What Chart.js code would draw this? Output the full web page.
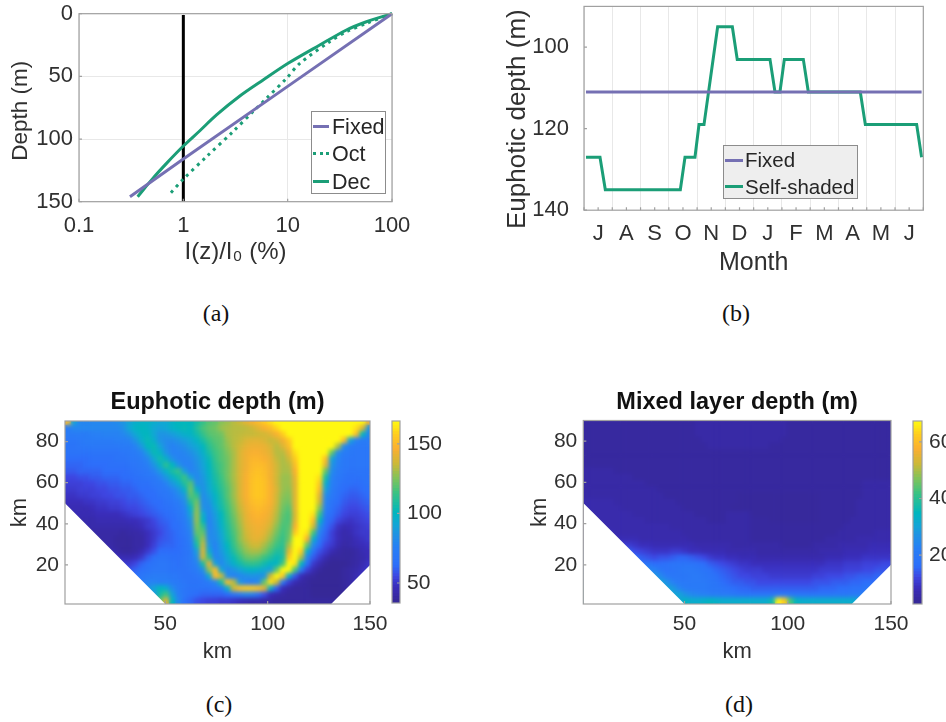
<!DOCTYPE html>
<html>
<head>
<meta charset="utf-8">
<title>Euphotic depth</title>
<script src="https://cdn.jsdelivr.net/npm/chart.js@4"></script>
<style>
html,body{margin:0;padding:0;background:#fff;overflow:hidden}
#page{position:relative;width:946px;height:722px;overflow:hidden}
canvas{position:absolute;filter:blur(.4px)}
.cap{position:absolute;font:24px "Liberation Serif",serif;color:#111;transform:translateX(-50%);line-height:28px}
.lg{position:absolute;box-sizing:border-box;border:1px solid #8c8c8c;font-family:"Liberation Sans",Arial,sans-serif;color:#262626;filter:blur(.3px)}
.lg div{position:absolute;white-space:nowrap;line-height:24px}
.lg i{position:absolute;height:0;border-top:3px solid}
</style>
</head>
<body>
<div id="page">
  <canvas id="a" width="430" height="290" style="left:0;top:0"></canvas>
  <canvas id="b" width="446" height="290" style="left:500px;top:0"></canvas>
  <canvas id="c" width="410" height="290" style="left:0;top:385px"></canvas>
  <canvas id="cb" width="60" height="290" style="left:385px;top:385px"></canvas>
  <canvas id="d" width="410" height="290" style="left:520px;top:385px"></canvas>
  <canvas id="db" width="41" height="290" style="left:905px;top:385px"></canvas>
  <div class="cap" style="left:216px;top:299px">(a)</div>
  <div class="cap" style="left:736px;top:299px">(b)</div>
  <div class="cap" style="left:219px;top:690px">(c)</div>
  <div class="cap" style="left:739px;top:690px">(d)</div>
</div>
<script>
// panel a
const fixedLight = [100, 10, 1, 0.308];
const fixedDepth = [0, 58, 116, 146];
const octLight = [100, 56.9, 36.6, 25.3, 13.1, 9.74, 6.27, 4.67, 3.0, 1.67, 1.0, 0.74];
const octDepth = [0, 7.7, 14.4, 22.3, 39.6, 51.6, 67.5, 78, 94, 114, 132, 144];
const decLight = [100, 56.9, 36.6, 20.3, 10.1, 5.82, 3.48, 2.08, 1.44, 1.0, 0.69, 0.515, 0.365];
const decDepth = [0, 6.4, 13, 25, 39.6, 52.9, 65.7, 80.8, 93.4, 105.6, 119.4, 131, 146];
const oneLight = [1, 1];
const oneDepth = [1, 150];
const lightTicks = [0.1, 1, 10, 100];
const depthTicks = [0, 50, 100, 150];

// panel b
const months = ['J','A','S','O','N','D','J','F','M','A','M','J'];
const fixedMonth = [0.07, 11.94];
const fixedEuphotic = [111, 111];
const shadedMonth = [0.07,0.566,0.754,3.407,3.572,3.925,4.067,4.244,4.727,5.246,5.42,6.578,6.755,6.93,7.085,7.757,7.934,9.772,9.95,11.765,11.94];
const shadedEuphotic = [127,127,135,135,127,127,119,119,95,95,103,103,111,111,103,103,111,111,119,119,127];
const euphoticTicks = [100, 120, 140];

// panels c and d: rows run from the top (y=89.5) down, 3 km cells
const kmXTicks = [50, 100, 150];
const kmYTicks = [20, 40, 60, 80];
const domainX = [1, 50, 131, 150, 150, 1];
const domainY = [50, 1, 1, 20, 90, 90];
const euphoticTicksBar = [50, 100, 150];
const mixedTicksBar = [20, 40, 60];
const euphoticRows = [
[150,90,78,78,78,78,78,78,80,85,90,95,97,97,95,92,92,97,100,100,100,105,112,118,120,125,128,132,135,140,145,150,155,160,165,165,165,165,165,165,165,165,165,165,165,165,165,165,165,145],
[72,78,78,78,78,78,78,78,78,82,92,98,100,98,92,90,92,97,100,102,100,108,116,120,122,128,130,132,132,133,135,140,146,150,158,165,165,165,165,165,165,165,165,165,165,165,165,160,140,85],
[72,72,72,72,74,75,76,76,76,78,84,92,98,100,92,84,85,88,92,96,98,104,112,118,120,122,130,132,133,134,134,135,136,140,146,156,165,165,165,165,165,165,165,165,165,165,165,150,100,78],
[68,68,70,72,72,72,72,72,74,74,76,84,95,102,96,84,80,80,84,88,92,98,106,114,118,120,128,132,134,138,140,140,138,134,136,144,155,165,165,165,165,165,165,165,165,150,90,76,72,72],
[66,66,68,70,70,70,70,70,70,72,72,76,86,100,102,90,80,76,78,82,88,92,100,110,116,120,126,132,136,141,143,143,142,138,132,138,150,165,165,165,165,165,165,165,130,80,72,70,70,70],
[66,66,66,66,66,66,66,66,66,68,70,72,76,88,102,98,84,76,76,78,82,88,96,106,114,118,124,130,138,143,145,145,143,140,132,132,142,160,165,165,165,165,165,120,80,72,70,68,68,68],
[62,62,62,62,64,64,64,64,66,66,68,70,72,78,92,104,96,82,76,76,78,84,92,102,112,118,122,130,138,143,148,148,146,142,134,130,136,155,165,165,165,165,150,90,76,70,68,68,68,68],
[60,60,60,62,62,62,62,64,64,64,66,68,70,74,84,96,110,100,84,76,76,82,90,100,110,116,122,130,138,143,149,150,149,143,136,130,132,150,165,165,165,165,140,85,74,70,68,68,68,68],
[58,58,60,60,60,60,62,62,62,62,64,66,68,70,76,86,96,106,112,88,76,80,88,98,108,116,122,130,138,144,150,152,150,144,136,130,130,146,165,165,165,165,120,80,72,68,66,66,66,66],
[54,54,56,56,58,58,60,60,60,62,62,64,66,68,70,76,86,96,104,114,90,78,86,96,106,114,122,130,138,145,151,153,151,144,136,128,128,142,165,165,165,160,105,76,70,66,64,64,66,66],
[52,52,52,54,54,56,56,58,58,60,60,62,64,64,68,70,76,86,94,108,118,82,84,94,104,112,120,129,138,145,152,154,152,145,136,128,128,140,165,165,165,155,95,74,68,64,64,62,64,66],
[50,50,52,52,52,54,54,56,56,58,58,60,62,62,64,68,70,76,84,96,122,96,82,92,102,110,118,128,138,145,152,154,152,146,138,128,126,140,165,165,165,150,88,72,66,62,60,60,62,64],
[48,48,50,50,52,52,54,54,56,56,58,58,60,62,62,66,68,72,78,86,118,112,80,88,98,108,118,128,138,145,152,154,152,146,136,126,124,140,165,165,165,140,80,70,64,60,58,58,60,62],
[46,46,46,48,48,50,50,52,52,54,56,56,58,60,62,62,66,68,72,80,108,122,80,84,96,106,116,126,136,144,150,152,150,146,136,124,122,140,165,165,165,135,76,66,62,58,56,56,58,60],
[44,44,44,44,46,48,48,50,50,52,54,54,56,58,60,62,64,66,70,76,96,126,84,80,92,104,114,124,134,142,148,150,148,144,134,122,118,140,165,165,165,125,74,64,60,56,54,54,56,58],
[44,44,44,44,44,46,46,46,46,48,50,52,54,56,58,60,62,64,68,74,90,128,94,78,88,100,112,122,132,141,146,148,146,142,132,120,116,138,165,165,160,112,70,62,58,54,52,52,54,56],
[42,42,42,42,42,44,44,44,44,44,46,46,48,50,54,58,60,62,66,72,84,128,100,76,86,98,110,120,130,140,144,146,144,140,130,118,116,140,165,165,150,100,66,60,54,50,48,50,52,54],
[42,42,42,42,42,42,42,42,42,42,42,44,46,50,52,56,58,62,64,70,80,124,112,76,84,96,108,118,128,138,142,144,142,136,126,116,118,145,165,165,135,85,62,56,48,44,46,48,50,52],
[40,40,40,40,40,40,40,40,40,38,40,40,42,46,50,54,58,60,64,68,76,120,120,78,82,92,106,116,126,136,141,143,140,132,122,114,120,155,165,160,115,76,60,52,46,42,44,48,50,50],
[40,40,40,40,40,40,40,40,38,38,38,40,40,46,50,56,58,60,62,66,74,112,128,80,80,90,104,114,126,134,140,141,136,128,118,112,122,165,165,145,95,68,58,52,46,42,42,46,48,50],
[40,40,40,40,40,40,40,40,38,38,38,40,40,46,52,58,60,60,62,66,72,104,134,86,76,88,100,112,122,130,135,136,130,122,114,110,130,165,165,120,80,62,54,50,44,40,42,44,46,48],
[44,44,44,44,44,44,44,44,40,38,38,40,44,50,56,62,62,62,62,66,70,88,138,94,76,86,96,108,118,126,130,130,124,116,108,108,140,165,155,95,66,56,50,44,40,38,38,40,44,46],
[50,50,50,50,50,50,50,50,46,44,44,46,50,58,64,66,66,64,64,66,70,82,136,110,78,82,92,102,112,120,122,120,114,108,102,106,155,165,130,78,58,50,44,38,38,38,38,40,42,46],
[56,56,56,56,56,56,56,56,56,50,50,54,60,64,66,68,68,66,64,66,70,76,106,142,90,78,88,96,104,110,112,110,104,98,98,115,165,160,100,66,50,44,38,36,36,36,38,40,44,48],
[60,60,60,60,60,60,60,60,60,60,56,60,64,66,68,68,68,66,66,66,68,72,82,126,150,92,78,84,90,96,98,96,92,88,120,165,165,115,72,52,44,38,36,36,36,38,40,42,46,50],
[62,62,62,62,62,62,62,62,62,62,62,64,68,70,72,72,72,70,68,66,66,68,72,92,150,135,82,76,78,82,84,82,84,135,165,155,95,58,46,40,38,36,36,36,36,38,40,44,48,52],
[66,66,66,66,66,66,66,66,66,66,66,66,72,76,76,74,74,72,70,68,66,66,68,72,78,105,150,132,85,76,74,78,120,160,135,72,52,44,40,38,36,36,36,36,36,38,40,46,52,56],
[70,70,70,70,70,70,70,70,70,70,70,70,70,82,90,100,95,80,72,68,66,66,66,66,68,72,95,135,152,155,155,152,140,95,60,46,40,38,38,38,36,36,36,36,36,38,40,52,56,56],
[78,78,78,78,78,78,78,78,78,78,78,78,78,78,85,105,115,90,74,68,64,62,60,60,60,60,62,68,74,78,76,66,56,46,42,40,38,38,38,38,36,36,36,36,36,36,36,36,36,36],
[90,90,90,90,90,90,90,90,90,90,90,90,90,90,100,120,140,100,78,64,60,56,54,52,52,50,50,48,46,44,42,42,40,40,38,38,38,38,38,38,38,38,38,38,38,38,38,38,38,38]
];
const mixedRows = [
[4,4,4,4,4,4,4,4,4,4,4,4,4,4,4,4,4,4,5,5,5,5,5,5,5,5,5,5,5,5,5,5,5,4,4,4,4,4,4,4,4,4,4,4,4,4,4,4,4,4],
[4,4,4,4,4,4,4,4,4,4,4,4,4,4,4,4,4,4,5,5,5,5,5,5,5,5,5,5,5,5,5,5,5,4,4,4,4,4,4,4,4,4,4,4,4,4,4,4,4,4],
[4,4,4,4,4,4,4,4,4,4,4,4,4,4,4,4,4,4,5,5,5,5,5,5,5,5,5,5,5,5,5,5,5,4,4,4,4,4,4,4,4,4,4,4,4,4,4,4,4,4],
[4,4,4,4,4,4,4,4,4,4,4,4,4,4,4,4,4,4,4,5,5,5,5,5,5,5,5,5,5,5,5,5,4,4,4,4,4,4,4,4,4,4,4,4,4,4,4,4,4,4],
[4,4,4,4,4,4,4,4,4,4,4,4,4,4,4,4,4,4,4,4,5,5,5,5,5,5,5,5,5,5,4,4,4,4,4,4,4,4,4,4,4,4,4,4,4,4,4,4,4,4],
[4,4,4,4,4,4,4,4,4,4,4,4,4,4,4,4,4,4,4,4,4,4,4,4,4,4,4,4,4,4,4,4,4,4,4,4,4,4,4,4,4,4,4,4,4,4,4,4,4,4],
[4,4,4,4,4,4,4,4,4,4,4,4,4,4,4,4,4,4,4,4,4,4,4,4,4,4,4,4,4,4,4,4,4,4,4,4,4,4,4,4,4,4,4,4,4,4,4,4,4,4],
[4,4,4,4,4,4,4,4,4,4,4,4,4,4,4,4,4,4,4,4,4,4,4,4,4,4,4,4,4,4,4,4,4,4,4,4,4,4,4,4,4,4,4,4,4,4,4,4,4,4],
[5,5,5,5,5,4,4,4,4,4,4,4,4,4,4,4,4,4,4,4,4,4,4,4,4,4,4,4,4,4,4,4,4,4,4,4,4,4,4,4,4,4,4,4,4,4,4,4,4,4],
[5,5,5,5,5,5,5,5,4,4,4,4,4,4,4,4,4,4,4,4,4,4,4,4,4,4,4,4,4,4,4,4,4,4,4,4,4,4,4,4,4,4,4,4,4,4,4,4,4,4],
[5,5,5,5,5,5,5,5,5,5,4,4,4,4,4,4,4,4,4,4,4,4,4,4,4,4,4,4,4,4,4,4,4,4,4,4,4,4,4,4,4,4,4,4,4,5,5,5,5,5],
[5,5,5,5,5,5,5,5,5,5,5,5,4,4,4,4,4,4,4,4,4,4,4,4,4,4,4,4,4,4,4,4,4,4,4,4,4,4,4,4,4,4,4,4,4,5,5,5,5,5],
[5,5,5,5,5,5,5,5,5,5,5,5,5,4,4,4,4,4,4,4,4,4,4,4,4,3.6,3.6,3.6,3.6,3.6,3.6,3.6,3.6,3.6,3.6,3.6,3.6,3.6,4,4,4,4,4,4,4,5,5,5,5,5],
[6,6,6,6,6,5,5,5,5,5,5,5,5,5,5,4,4,4,4,4,4,4,4,4,4,3.6,3.6,3.6,3.6,3.6,3.6,3.6,3.6,3.6,3.6,3.6,3.6,3.6,4,4,4,4,4,4,5,5,5,5,5,5],
[6,6,6,6,6,6,5,5,5,5,5,5,5,5,5,5,4,4,4,4,4,4,4,4,3.6,3.6,3.6,3.6,3.6,3.6,3.6,3.6,3.6,3.6,3.6,3.6,3.6,3.6,4,4,4,4,4,4,5,5,5,5,5,5],
[6,6,6,6,6,6,6,6,5,5,5,5,5,5,5,5,5,5,4,4,4,4,4,5,5,5,5,3.6,3.6,3.6,3.6,3.6,3.6,3.6,3.6,3.6,3.6,3.6,4,4,4,4,4,4,5,5,5,5,5,5],
[6,6,6,6,6,6,6,6,6,6,5,5,5,5,5,5,5,5,5,5,4,4,4,5,5,5,5,4,4,4,3.6,3.6,3.6,3.6,3.6,3.6,3.6,3.6,4,4,4,4,4,5,5,5,5,5,5,5],
[6,6,6,6,6,6,6,6,6,6,6,6,6,6,5,5,5,5,5,5,5,5,5,5,5,5,5,4,4,4,4,4,4,4,4,4,4,4,4,4,4,4,5,5,5,5,5,5,5,5],
[7,7,7,7,7,6,6,6,6,6,6,6,6,6,6,6,5,5,5,5,5,5,5,5,5,5,5,4,4,4,4,4,4,4,4,4,4,4,4,4,4,5,5,5,5,5,5,6,6,6],
[8,8,8,8,8,7,7,7,7,6,6,6,6,6,6,6,6,5,5,5,5,5,5,5,5,5,5,4,4,4,4,4,4,4,4,4,4,4,4,5,5,5,5,5,6,6,6,6,6,6],
[10,10,10,10,10,10,10,10,9,8,8,7,7,7,7,7,7,7,6,6,6,6,6,6,5,5,5,5,5,5,5,5,4,4,4,4,4,5,5,5,5,6,6,6,6,6,7,7,7,7],
[14,14,14,14,14,14,14,14,12,11,10,9,9,9,10,10,9,8,8,7,7,7,7,6,6,6,6,6,5,5,5,5,5,5,5,5,5,5,6,6,6,6,7,7,7,7,8,8,8,8],
[16,16,16,16,16,16,16,16,16,14,13,12,13,13,14,15,15,14,13,12,10,9,9,8,8,7,7,7,6,6,6,6,6,6,6,6,6,6,6,7,7,7,8,8,8,9,9,9,9,9],
[18,18,18,18,18,18,18,18,18,18,18,16,16,17,18,18,18,18,17,16,14,13,12,11,10,9,9,8,8,8,8,8,8,8,8,8,8,8,8,9,9,9,10,10,10,11,11,11,12,12],
[20,20,20,20,20,20,20,20,20,20,24,22,19,17,18,19,20,20,19,18,17,15,14,13,12,11,10,10,10,9,9,9,9,9,9,9,9,9,10,10,10,10,11,11,11,12,12,13,13,13],
[22,22,22,22,22,22,22,22,22,22,22,28,24,20,19,19,19,20,20,19,18,17,15,14,13,12,12,11,11,11,10,10,10,10,10,10,10,11,11,12,12,12,13,13,14,14,14,15,15,15],
[26,26,26,26,26,26,26,26,26,26,26,26,30,26,22,20,20,20,20,20,19,18,16,15,14,14,13,13,12,12,12,12,12,12,12,12,12,13,13,13,14,14,14,15,15,16,16,16,16,16],
[30,30,30,30,30,30,30,30,30,30,30,30,30,30,28,23,21,20,20,20,19,19,18,17,16,15,15,14,14,14,14,14,14,14,14,14,14,14,15,15,15,16,16,17,17,18,19,19,19,19],
[30,30,30,30,30,30,30,30,30,30,30,30,30,30,30,30,26,24,23,22,21,21,20,20,19,18,18,18,18,18,18,19,20,19,18,18,18,18,18,18,19,19,19,20,20,22,24,24,24,24],
[30,30,30,30,30,30,30,30,30,30,30,30,30,30,30,30,34,32,32,33,34,33,32,32,32,32,32,32,32,32,36,66,62,42,34,32,32,32,32,32,32,32,32,32,30,30,30,30,30,30]
];
const euphoticRange = [35.6, 166.5];
const mixedRange = [2.7, 67.4];

// colormap picked off the colorbar
const cmapT = [0,.08,.14,.2,.3,.38,.42,.49,.6,.68,.76,.84,.92,1];
const cmapRGB = [[54,40,150],[58,45,185],[62,70,225],[45,110,250],[40,128,245],[30,150,225],[20,165,215],[0,182,190],[60,195,130],[130,195,90],[205,185,55],[250,175,50],[255,205,30],[255,255,15]];
function cmap(t){
  t = Math.max(0,Math.min(1,t));
  let k = 0; while(k<cmapT.length-2 && t>cmapT[k+1]) k++;
  const f = (t-cmapT[k])/(cmapT[k+1]-cmapT[k]);
  const c = cmapRGB[k].map((a,n)=>Math.round(a+(cmapRGB[k+1][n]-a)*f));
  return `rgb(${c[0]},${c[1]},${c[2]})`;
}

const PURPLE = '#7570b3', GREEN = '#1b9e77', INK = '#303030', BOX = '#a0a0a0', GRID = '#e8e8e8';
const SANS = '"Liberation Sans", Arial, sans-serif';
Chart.defaults.font.family = SANS;
Chart.defaults.color = INK;
Chart.defaults.animation = false;
Chart.defaults.events = [];
Chart.defaults.plugins.legend.display = false;
Chart.defaults.plugins.tooltip.enabled = false;

// box round the plot and small inward ticks, like matlab
const boxPlugin = {
  id:'box',
  afterDatasetsDraw(chart){
    const {ctx, chartArea:a} = chart;
    ctx.save();
    ctx.strokeStyle = BOX; ctx.lineWidth = 1.2;
    ctx.strokeRect(a.left, a.top, a.right-a.left, a.bottom-a.top);
    ctx.beginPath();
    for(const s of Object.values(chart.scales)){
      if(!s.options.display) continue;
      for(const t of s.ticks){
        const p = s.getPixelForValue(t.value);
        if(s.axis==='x'){ ctx.moveTo(p,a.bottom); ctx.lineTo(p,a.bottom-3); }
        else if(s.position==='left'){ ctx.moveTo(a.left,p); ctx.lineTo(a.left+3,p); }
        else { ctx.moveTo(a.right,p); ctx.lineTo(a.right-3,p); }
      }
    }
    ctx.stroke();
    ctx.restore();
  }
};

// soften the cells once they are drawn, then whiten what falls outside the section
const domainPlugin = {
  id:'domain',
  afterDatasetsDraw(chart){
    const {ctx, canvas, chartArea:a, scales:{x,y}} = chart;
    const copy = document.createElement('canvas');
    copy.width = canvas.width; copy.height = canvas.height;
    copy.getContext('2d').drawImage(canvas,0,0);
    ctx.save();
    ctx.beginPath(); ctx.rect(a.left,a.top,a.right-a.left,a.bottom-a.top); ctx.clip();
    ctx.filter = 'blur(2px)';
    ctx.drawImage(copy,0,0);
    ctx.filter = 'none';
    ctx.beginPath();
    ctx.rect(a.left,a.top,a.right-a.left,a.bottom-a.top);
    domainX.forEach((v,i)=>{
      const px = x.getPixelForValue(v), py = y.getPixelForValue(domainY[i]);
      i ? ctx.lineTo(px,py) : ctx.moveTo(px,py);
    });
    ctx.closePath();
    ctx.fillStyle = '#fff';
    ctx.fill('evenodd');
    ctx.restore();
  }
};

function zip(xs,ys){ return xs.map((x,i)=>({x,y:ys[i]})); }
function fixTicks(list){ return s=>{ s.ticks = list.map(v=>({value:v})); }; }
// pin an axis band so the plot area lands where it should
function pinX(h){ return s=>{ s.height = h; s.paddingLeft = s.paddingRight = 0; }; }
function pinY(w){ return s=>{ s.width = w; s.paddingTop = s.paddingBottom = 0; }; }
function axisTitle(text,size,fromEdge){
  const pad = fromEdge-size*0.6;
  return {display:true, text, color:INK, font:{size}, padding:{top:pad,bottom:pad}};
}
function line(label,xs,ys,color,extra){
  return Object.assign({label,data:zip(xs,ys),showLine:true,borderColor:color,backgroundColor:color,borderWidth:3,pointRadius:0,clip:false},extra);
}

// (a)
const chartA = new Chart(document.getElementById('a'),{
  type:'scatter',
  data:{datasets:[
    line('Fixed',fixedLight,fixedDepth,PURPLE),
    line('Oct',octLight,octDepth,GREEN,{borderDash:[3,4.5],tension:.3}),
    line('Dec',decLight,decDepth,GREEN,{tension:.3}),
    line('',oneLight,oneDepth,'#000000')
  ]},
  options:{
    responsive:false,
    layout:{padding:{top:13.7,right:38}},
    scales:{
      x:{type:'logarithmic',min:.1,max:100,afterBuildTicks:fixTicks(lightTicks),afterFit:pinX(88.3),
        grid:{color:GRID,drawTicks:false},border:{display:false},
        ticks:{font:{size:22},padding:11,color:INK,autoSkip:false,maxRotation:0,callback:v=>String(v)},
        title:axisTitle('I(z)/I\u2080 (%)',24,38)},
      y:{reverse:true,min:0,max:150,afterBuildTicks:fixTicks(depthTicks),afterFit:pinY(79),
        grid:{color:GRID,drawTicks:false},border:{display:false},
        ticks:{font:{size:22},padding:6,color:INK},
        title:axisTitle('Depth (m)\u00a0',22.5,21)}
    }
  },
  plugins:[boxPlugin]
});

// (b)
const chartB = new Chart(document.getElementById('b'),{
  type:'scatter',
  data:{datasets:[
    line('Fixed',fixedMonth,fixedEuphotic,PURPLE),
    line('Self-shaded',shadedMonth,shadedEuphotic,GREEN)
  ]},
  options:{
    responsive:false,
    layout:{padding:{top:6.4,right:22.7}},
    scales:{
      x:{type:'linear',min:0,max:12,afterBuildTicks:fixTicks(months.flatMap((m,i)=>[i,i+.5]).concat(12)),afterFit:pinX(79.8),
        grid:{drawTicks:false,color:c=>Number.isInteger(c.tick.value)?GRID:'rgba(0,0,0,0)'},border:{display:false},
        ticks:{font:{size:22},padding:11,color:INK,autoSkip:false,maxRotation:0,
          callback:v=>Number.isInteger(v)?'':months[v-.5]},
        title:axisTitle('Month',25,27)},
      y:{reverse:true,min:90,max:140,afterBuildTicks:fixTicks(euphoticTicks),afterFit:pinY(84),
        grid:{display:false},border:{display:false},
        ticks:{font:{size:22},padding:7,color:INK},
        title:axisTitle('Euphotic depth (m)\u00a0\u00a0\u00a0',26,18)}
    }
  },
  plugins:[boxPlugin]
});

// (c) (d) heat maps as rect points
function heatChart(id,rows,range,title,left,top,right,bottom){
  const cells = [];
  rows.forEach((row,j)=>row.forEach((v,i)=>cells.push({x:2.5+3*i,y:89.5-3*j,v})));
  const span = range[1]-range[0];
  return new Chart(document.getElementById(id),{
    type:'scatter',
    data:{datasets:[{
      label:title,data:cells,pointStyle:'rect',borderWidth:0,
      backgroundColor:c=>cmap((c.raw.v-range[0])/span),
      // half side of a rect point is radius/sqrt2; 3 km cell plus a little overlap
      pointRadius:c=>{
        const s = c.chart.scales.x;
        return (s.getPixelForValue(4)-s.getPixelForValue(1)+0.6)*Math.SQRT1_2;
      }
    }]},
    options:{
      responsive:false,
      layout:{padding:{right:right}},
      plugins:{title:{display:true,text:title,fullSize:false,color:'#111',font:{size:23.5,weight:'bold'},padding:{top:top-32.2,bottom:4}}},
      scales:{
        x:{type:'linear',min:1,max:150,afterBuildTicks:fixTicks(kmXTicks),afterFit:pinX(bottom),
          grid:{display:false,drawTicks:false},border:{display:false},
          ticks:{font:{size:21},padding:8,color:INK,autoSkip:false,maxRotation:0},
          title:axisTitle('km',22,bottom-48)},
        y:{type:'linear',min:1,max:90,afterBuildTicks:fixTicks(kmYTicks),afterFit:pinY(left),
          grid:{display:false,drawTicks:false},border:{display:false},
          ticks:{font:{size:21},padding:6,color:INK},
          title:axisTitle('km',22,20)}
      }
    },
    plugins:[domainPlugin,boxPlugin]
  });
}
heatChart('c',euphoticRows,euphoticRange,'Euphotic depth (m)',65,36,40,71);
heatChart('d',mixedRows,mixedRange,'Mixed layer depth (m)',63.3,35.5,39,71);

// colorbars as stacked floating bars
function colorBar(id,range,ticks,padLeft,padRight,barWidthAxis,padTop,padBottom){
  const n = 64, sets = [];
  for(let k=0;k<n;k++){
    const lo = range[0]+(range[1]-range[0])*k/n, hi = range[0]+(range[1]-range[0])*(k+1.3)/n;
    sets.push({data:[[lo,Math.min(hi,range[1])]],backgroundColor:cmap((k+.5)/n),grouped:false,barPercentage:1,categoryPercentage:1,borderWidth:0});
  }
  return new Chart(document.getElementById(id),{
    type:'bar',
    data:{labels:[''],datasets:sets},
    options:{
      responsive:false,
      layout:{padding:{left:padLeft,right:padRight,top:padTop,bottom:padBottom}},
      scales:{
        x:{display:false},
        y:{position:'right',min:range[0],max:range[1],afterBuildTicks:fixTicks(ticks),afterFit:pinY(barWidthAxis),
          grid:{display:false,drawTicks:false},border:{display:false},
          ticks:{font:{size:21},padding:7,color:INK}}
      }
    },
    plugins:[boxPlugin]
  });
}
colorBar('cb',euphoticRange,euphoticTicksBar,7,0,45,36,72);
colorBar('db',mixedRange,mixedTicksBar,8,0,24,36,71);

// legends read their entries from the charts
function htmlLegend(chart,box,rows,swatch,textX,size,bg){
  const el = document.createElement('div');
  el.className = 'lg';
  el.style.cssText = `left:${box[0]}px;top:${box[1]}px;width:${box[2]}px;height:${box[3]}px;background:${bg};font-size:${size}px`;
  chart.data.datasets.filter(d=>d.label).forEach((d,i)=>{
    const t = document.createElement('div');
    t.textContent = d.label;
    t.style.cssText = `left:${textX-box[0]}px;top:${rows[i]-box[1]-13}px`;
    const s = document.createElement('i');
    s.style.cssText = `left:${swatch[0]-box[0]}px;width:${swatch[1]-swatch[0]}px;top:${rows[i]-box[1]-2.5}px;border-top-color:${d.borderColor};border-top-style:${d.borderDash?'dotted':'solid'}`;
    el.append(s,t);
  });
  document.getElementById('page').append(el);
}
htmlLegend(chartA,[310.7,110.7,75.3,83.3],[126.7,154,182],[312.5,328],331,21.5,'#ffffff');
htmlLegend(chartB,[722.7,145,135.5,54],[160,186.7],[724,741.7],744,20.5,'#eeeeee');
</script>
</body>
</html>
